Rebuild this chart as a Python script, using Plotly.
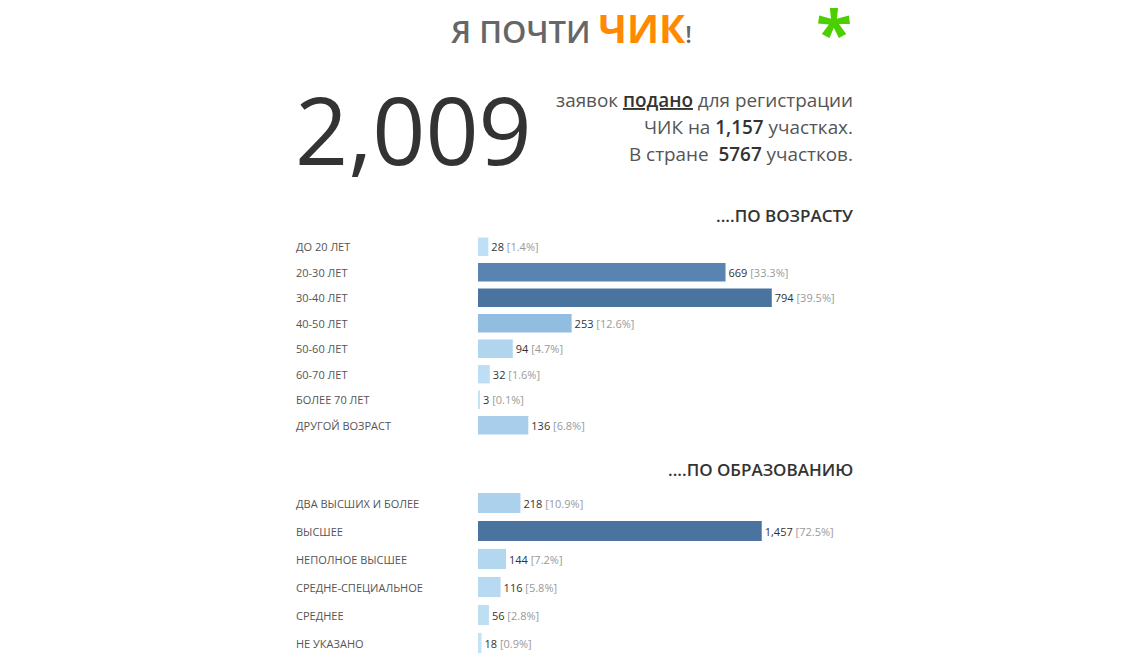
import plotly.graph_objects as go

# ---- data ----
age_categories = ["ДО 20 ЛЕТ", "20-30 ЛЕТ", "30-40 ЛЕТ", "40-50 ЛЕТ", "50-60 ЛЕТ",
                  "60-70 ЛЕТ", "БОЛЕЕ 70 ЛЕТ", "ДРУГОЙ ВОЗРАСТ"]
age_values = [28, 669, 794, 253, 94, 32, 3, 136]
age_percent = [1.4, 33.3, 39.5, 12.6, 4.7, 1.6, 0.1, 6.8]

edu_categories = ["ДВА ВЫСШИХ И БОЛЕЕ", "ВЫСШЕЕ", "НЕПОЛНОЕ ВЫСШЕЕ",
                  "СРЕДНЕ-СПЕЦИАЛЬНОЕ", "СРЕДНЕЕ", "НЕ УКАЗАНО"]
edu_values = [218, 1457, 144, 116, 56, 18]
edu_percent = [10.9, 72.5, 7.2, 5.8, 2.8, 0.9]

total_applications = 2009
stations_applied = 1157
stations_total = 5767

# ---- layout helpers ----
OFF = 8                      # page body margin
W, H = 1123 - 2 * OFF, 670 - 2 * OFF
FONT = "Open Sans"


def fx(p):
    return (p - OFF) / W


def fy(p):
    return 1 - (p - OFF) / H


blues = [[0.0, "#c4e3f7"], [0.3, "#93bfe3"], [0.82, "#5b87b5"], [1.0, "#4a73a0"]]


def bar_text(vals, pcts):
    return [f"<span style='color:#333333'>{v:,}</span> <span style='color:#9a9a9a'>[{p}%]</span>"
            for v, p in zip(vals, pcts)]


fig = go.Figure()

fig.add_trace(go.Bar(
    x=age_values, y=age_categories, orientation="h",
    xaxis="x", yaxis="y", width=0.72,
    marker=dict(color=age_values, colorscale=blues, cmin=0, cmax=max(age_values), line=dict(width=0)),
    text=bar_text(age_values, age_percent), textposition="outside",
    textfont=dict(size=11, family=FONT, color="#333333"),
    cliponaxis=False, constraintext="none", hoverinfo="skip",
))

fig.add_trace(go.Bar(
    x=edu_values, y=edu_categories, orientation="h",
    xaxis="x2", yaxis="y2", width=0.72,
    marker=dict(color=edu_values, colorscale=blues, cmin=0, cmax=max(edu_values), line=dict(width=0)),
    text=bar_text(edu_values, edu_percent), textposition="outside",
    textfont=dict(size=11, family=FONT, color="#333333"),
    cliponaxis=False, constraintext="none", hoverinfo="skip",
))

hidden = dict(showgrid=False, zeroline=False, showticklabels=False, showline=False, ticks="")

annotations = []

# category labels (left aligned)
for c in age_categories:
    annotations.append(dict(x=fx(294), y=c, xref="paper", yref="y", text=c, showarrow=False,
                            xanchor="left", yanchor="middle",
                            font=dict(size=11, family=FONT, color="#555555")))
for c in edu_categories:
    annotations.append(dict(x=fx(294), y=c, xref="paper", yref="y2", text=c, showarrow=False,
                            xanchor="left", yanchor="middle",
                            font=dict(size=11, family=FONT, color="#555555")))

# title
annotations.append(dict(
    x=fx(571), y=fy(27), xref="paper", yref="paper", showarrow=False,
    xanchor="center", yanchor="middle",
    text="<span style='font-size:31px;color:#666666;font-weight:600'>Я ПОЧТИ</span> "
         "<span style='font-size:39px;color:#ff8a00;font-weight:700'>ЧИК</span>"
         "<span style='font-size:24px;color:#666666;font-weight:600'>!</span>",
    font=dict(family=FONT, size=31, color="#666666"),
))
# asterisk
annotations.append(dict(
    x=fx(834), y=fy(-15), xref="paper", yref="paper", showarrow=False,
    xanchor="center", yanchor="top", text="<b>*</b>",
    font=dict(family=FONT, size=66, color="#4ccf00"),
))
# big number
annotations.append(dict(
    x=fx(413), y=fy(129), xref="paper", yref="paper", showarrow=False,
    xanchor="center", yanchor="middle", text=f"{total_applications:,}",
    font=dict(family=FONT, size=93, color="#333333"),
))
# description (three right-aligned lines)
desc_lines = [
    "заявок <span style='color:#333333;font-weight:600'><u>подано</u></span> для регистрации",
    f"ЧИК на <span style='color:#333333;font-weight:600'>{stations_applied:,}</span> участках.",
    f"В стране  <span style='color:#333333;font-weight:600'>{stations_total}</span> участков.",
]
for line, ypx in zip(desc_lines, [100, 127, 154]):
    annotations.append(dict(
        x=fx(855), y=fy(ypx), xref="paper", yref="paper", showarrow=False,
        xanchor="right", yanchor="middle", align="right", text=line,
        font=dict(family=FONT, size=18.9, color="#555555"),
    ))
# section headers
annotations.append(dict(
    x=fx(855), y=fy(215), xref="paper", yref="paper", showarrow=False,
    xanchor="right", yanchor="middle",
    text="<span style='font-weight:600'>....ПО ВОЗРАСТУ</span>",
    font=dict(family=FONT, size=17, color="#333333"),
))
annotations.append(dict(
    x=fx(855), y=fy(469), xref="paper", yref="paper", showarrow=False,
    xanchor="right", yanchor="middle",
    text="<span style='font-weight:600'>....ПО ОБРАЗОВАНИЮ</span>",
    font=dict(family=FONT, size=17, color="#333333"),
))

fig.update_layout(
    width=W, height=H,
    margin=dict(l=0, r=0, t=0, b=0),
    paper_bgcolor="white", plot_bgcolor="white",
    showlegend=False, bargap=0.28,
    font=dict(family=FONT),
    xaxis=dict(domain=[fx(478), fx(848)], range=[0, 1000], anchor="y", **hidden),
    yaxis=dict(domain=[fy(438), fy(234)], autorange="reversed", anchor="x", **hidden),
    xaxis2=dict(domain=[fx(478), fx(848)], range=[0, 1900], anchor="y2", **hidden),
    yaxis2=dict(domain=[fy(657), fy(489)], autorange="reversed", anchor="x2", **hidden),
    annotations=annotations,
)

fig.write_html("out.html")
